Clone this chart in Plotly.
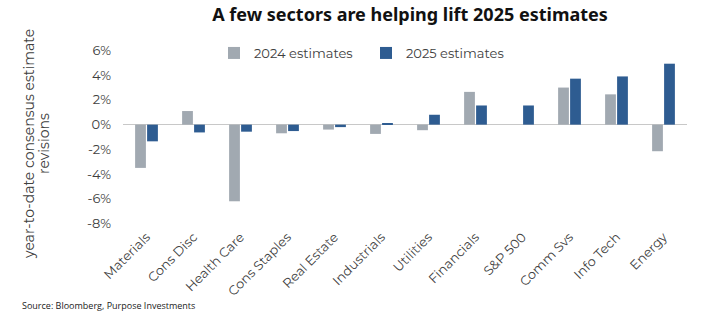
import plotly.graph_objects as go

categories = ["Materials", "Cons Disc", "Health Care", "Cons Staples", "Real Estate",
              "Industrials", "Utilities", "Financials", "S&P 500", "Comm Svs",
              "Info Tech", "Energy"]
est_2024 = [-3.5, 1.1, -6.2, -0.7, -0.4, -0.75, -0.45, 2.65, 0.0, 3.0, 2.45, -2.15]
est_2025 = [-1.35, -0.63, -0.57, -0.52, -0.2, 0.08, 0.8, 1.55, 1.55, 3.72, 3.9, 4.93]
y_ticks = [-8, -6, -4, -2, 0, 2, 4, 6]
y_tick_labels = [f"{v}%" for v in y_ticks]

gray = "#A1A9B1"
blue = "#2E5C91"
txt = "#404040"
font = "Montserrat, Noto Sans, sans-serif"

W, H = 708, 324
L, R, T, B = 123, 21, 48, 98
PW, PH = W - L - R, H - T - B

fig = go.Figure()
fig.add_trace(go.Bar(name="2024 estimates", x=categories, y=est_2024,
                     marker=dict(color=gray, line=dict(width=0))))
fig.add_trace(go.Bar(name="2025 estimates", x=categories, y=est_2025,
                     marker=dict(color=blue, line=dict(width=0))))

fig.update_layout(
    width=W, height=H,
    margin=dict(l=L, r=R, t=T, b=B, autoexpand=False),
    paper_bgcolor="white", plot_bgcolor="white",
    barmode="group", bargap=0.49, bargroupgap=0.1,
    font=dict(family=font, color=txt, size=13),
    title=dict(text="<b>A few sectors are helping lift 2025 estimates</b>",
               x=410 / W, xanchor="center", y=1 - 15 / H, yanchor="middle",
               font=dict(family="Noto Sans", size=18, color="#111111")),
    legend=dict(orientation="h", x=(214 - L) / PW, y=(T + PH - 53) / PH,
                xanchor="left", yanchor="middle",
                font=dict(size=13, color=txt), traceorder="normal",
                bgcolor="rgba(255,255,255,0)", entrywidth=107, entrywidthmode="pixels"),
    showlegend=True,
)
fig.update_yaxes(range=[-8.2, 6.2], tickvals=y_ticks, ticktext=y_tick_labels,
                 showgrid=False, zeroline=True, zerolinecolor="#C8C8C8", zerolinewidth=1,
                 showline=False, ticks="", tickfont=dict(size=13, color=txt),
                 ticklabelstandoff=11, automargin=False)
fig.update_xaxes(showgrid=False, showline=False, ticks="", tickangle=-45,
                 tickfont=dict(size=13, color=txt), automargin=False)

ymid = (T + PH - 144) / PH
fig.add_annotation(text="year-to-date consensus estimate", xref="paper", yref="paper",
                   x=(29 - L) / PW, y=ymid, xanchor="center", yanchor="middle",
                   textangle=-90, showarrow=False, font=dict(size=14, color=txt))
fig.add_annotation(text="revisions", xref="paper", yref="paper",
                   x=(44 - L) / PW, y=ymid, xanchor="center", yanchor="middle",
                   textangle=-90, showarrow=False, font=dict(size=14, color=txt))

fig.add_annotation(text="Source: Bloomberg, Purpose Investments", xref="paper", yref="paper",
                   x=(20 - L) / PW, y=(T + PH - 305) / PH, xanchor="left", yanchor="middle",
                   showarrow=False,
                   font=dict(family="Open Sans", size=9, color="#222222"))

fig.write_html("out.html")
